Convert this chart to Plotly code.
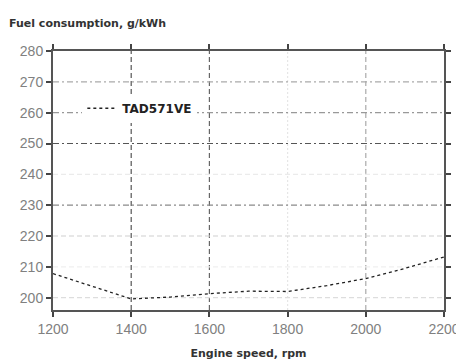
import plotly.graph_objects as go

# engine speed (rpm) and fuel consumption (g/kWh)
rpm = [1200, 1300, 1400, 1500, 1600, 1700, 1800, 1900, 2000, 2100, 2200]
fuel = [207.8, 203.7, 199.6, 200.2, 201.3, 202.1, 202.0, 203.9, 206.2, 209.5, 213.2]

x_ticks = [1200, 1400, 1600, 1800, 2000, 2200]
y_ticks = [200, 210, 220, 230, 240, 250, 260, 270, 280]

DASH = "5px,3px"
DASHDOT = "6px,3px,2px,3px"

# grid lines: value -> (colour, dash)
x_grid = {1400: ("#555555", DASH), 1600: ("#666666", DASH),
          1800: ("#e6e6e6", "2px,2px"), 2000: ("#aaaaaa", DASH)}
y_grid = {200: ("#dddddd", DASH), 210: ("#f0f0f0", DASH), 220: ("#d0d0d0", DASH),
          230: ("#8a8a8a", DASHDOT), 240: ("#ebebeb", DASH), 250: ("#555555", DASHDOT),
          260: ("#999999", DASHDOT), 270: ("#aaaaaa", DASHDOT)}

TITLE_FONT = dict(family="DejaVu Sans", size=11, color="#333333")

fig = go.Figure()
fig.add_trace(go.Scatter(
    x=rpm, y=fuel, mode="lines", name="<b>TAD571VE</b>",
    line=dict(color="#222222", width=1.3, dash="dot"),
))

for xv, (c, d) in x_grid.items():
    fig.add_shape(type="line", xref="x", yref="paper", x0=xv, x1=xv, y0=0, y1=1,
                  line=dict(color=c, width=1.2, dash=d), layer="below")
for yv, (c, d) in y_grid.items():
    fig.add_shape(type="line", xref="paper", yref="y", x0=0, x1=1, y0=yv, y1=yv,
                  line=dict(color=c, width=1.2, dash=d), layer="below")

fig.add_annotation(text="<b>Fuel consumption, g/kWh</b>", xref="paper", yref="paper",
                   x=-0.117, y=1.105, xanchor="left", yanchor="middle", showarrow=False,
                   font=TITLE_FONT)

fig.update_xaxes(range=[1200, 2200], tickvals=x_ticks, showgrid=False, zeroline=False,
                 showline=True, linecolor="#555555", linewidth=2, mirror="ticks",
                 ticks="outside", ticklen=5, tickcolor="#444444", tickwidth=2,
                 tickfont=dict(size=14, color="#808080"),
                 title=dict(text="<b>Engine speed, rpm</b>", font=TITLE_FONT, standoff=14))
fig.update_yaxes(range=[196, 280], tickvals=y_ticks, showgrid=False, zeroline=False,
                 showline=True, linecolor="#555555", linewidth=2, mirror="ticks",
                 ticks="outside", ticklen=5, tickcolor="#444444", tickwidth=2,
                 tickfont=dict(size=14, color="#808080"))

fig.update_layout(
    width=464, height=362,
    margin=dict(l=45, r=17, t=43, b=50),
    paper_bgcolor="white", plot_bgcolor="white",
    font=dict(family="Liberation Sans, Arial, sans-serif"),
    showlegend=True,
    legend=dict(x=0.075, y=0.835, xanchor="left", yanchor="top", bgcolor="white",
                font=dict(size=12, color="#222222", family="DejaVu Sans"),
                itemwidth=30),
)

fig.write_html("out.html")
